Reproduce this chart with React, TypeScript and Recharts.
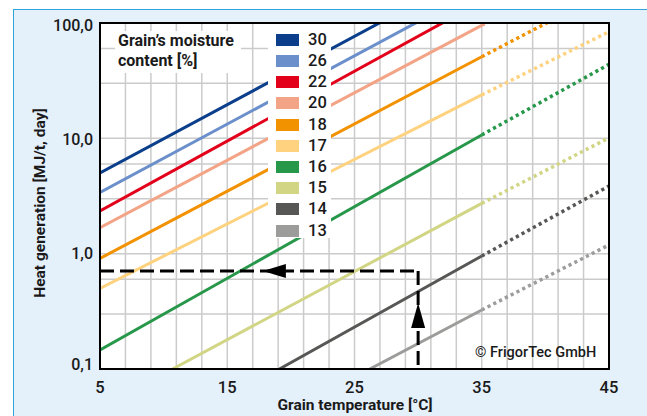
import React from 'react';
import { LineChart, Line, XAxis, YAxis, CartesianGrid, ReferenceLine, ReferenceDot } from 'recharts';

const moisture = ['30', '26', '22', '20', '18', '17', '16', '15', '14', '13'];
const lineColors = ['#0b3f8c', '#6b8fcb', '#e2001a', '#f3a487', '#f39200', '#fed27e', '#27974a', '#d1d584', '#575756', '#9c9c9b'];
// where each solid line starts (lower ones start where they cross 0,1)
const startTemp = [5, 5, 5, 5, 5, 5, 5, 10.7, 19.1, 26.2];
const startHeat = [5.0, 3.4, 2.35, 1.68, 0.91, 0.5, 0.146, 0.1, 0.1, 0.1];
// value at 35 °C, where solid turns dotted
const heatAt35 = [300, 203, 154, 95.5, 51, 23.8, 10.7, 2.73, 0.955, 0.325];
// dotted extension up to 45 °C
const heatAt45 = [null, null, null, 360, 191, 84, 43.8, 10.1, 3.86, 1.19];

const xTicks = [5, 15, 25, 35, 45];
const xGrid = [5, 7, 9, 11, 13, 15, 17, 19, 21, 23, 25, 27, 29, 31, 33, 35, 37, 39, 41, 43, 45];
const yTicks = [0.1, 1, 10, 100];
const yLabels = ['0,1', '1,0', '10,0', '100,0'];
const yGrid = [
  0.1, 0.2, 0.3, 0.4, 0.5, 0.6, 0.7, 0.8, 0.9,
  1, 2, 3, 4, 5, 6, 7, 8, 9,
  10, 20, 30, 40, 50, 60, 70, 80, 90, 100,
];

// reading example: 30 °C -> ~0,7 MJ/t,day
const readTemp = 30;
const readHeat = 0.707;

const font = 'Roboto, "DejaVu Sans", sans-serif';

const YTick = (props: any) => {
  const { x, y, payload } = props;
  const i = yTicks.indexOf(payload.value);
  const shift = payload.value === 0.1 ? -5 : payload.value === 100 ? 2 : payload.value === 10 ? 1 : 0;
  return (
    <text x={x} y={y + shift} dy="0.36em" textAnchor="end" fill="#1a1a1a" fontSize={16} fontFamily={font} fontWeight={500}>
      {yLabels[i]}
    </text>
  );
};

const LeftArrow = (props: any) => {
  const { cx, cy } = props;
  return <polygon points={`${cx},${cy} ${cx + 23},${cy - 7} ${cx + 23},${cy + 7}`} fill="#000" />;
};

const UpArrow = (props: any) => {
  const { cx, cy } = props;
  return <polygon points={`${cx},${cy} ${cx - 7},${cy + 25} ${cx + 7},${cy + 25}`} fill="#000" />;
};

export default function App() {
  return (
    <div style={{ position: 'fixed', left: 0, top: 0, width: 647, height: 416, background: '#fff', overflow: 'hidden', fontFamily: font }}>
      {/* light blue panel */}
      <div style={{ position: 'absolute', left: 13, top: 9, width: 640, height: 420, background: '#e4f0fa', borderTop: '1px solid #2ea3dc', borderLeft: '1px solid #2ea3dc' }} />

      <div style={{ position: 'absolute', left: 0, top: 0 }}>
        <LineChart width={647} height={416} margin={{ top: 23, right: 38, bottom: 17, left: 40 }}>
          <CartesianGrid
            fill="#fff"
            stroke="#cbcbcb"
            strokeWidth={1.5}
            horizontalValues={yGrid}
            verticalValues={xGrid}
          />
          <XAxis
            type="number"
            dataKey="t"
            domain={[5, 45]}
            ticks={xTicks}
            allowDataOverflow
            height={30}
            axisLine={false}
            tickLine={false}
            tickSize={0}
            tickMargin={12}
            tick={{ fill: '#1a1a1a', fontSize: 16.5, fontFamily: font, fontWeight: 500 }}
          />
          <YAxis
            type="number"
            dataKey="h"
            scale="log"
            domain={[0.1, 100]}
            ticks={yTicks}
            allowDataOverflow
            width={60}
            axisLine={false}
            tickLine={false}
            tickSize={0}
            tickMargin={7}
            tick={<YTick />}
          />
          {moisture.map((m, i) => (
            <Line
              key={'s' + m}
              data={[
                { t: startTemp[i], h: startHeat[i] },
                { t: 35, h: heatAt35[i] },
              ]}
              dataKey="h"
              stroke={lineColors[i]}
              strokeWidth={3}
              dot={false}
              isAnimationActive={false}
            />
          ))}
          {moisture.map((m, i) =>
            heatAt45[i] == null ? null : (
              <Line
                key={'d' + m}
                data={[
                  { t: 35, h: heatAt35[i] },
                  { t: 45, h: heatAt45[i] },
                ]}
                dataKey="h"
                stroke={lineColors[i]}
                strokeWidth={3.5}
                strokeDasharray="3.2 3.3"
                dot={false}
                isAnimationActive={false}
              />
            )
          )}
          <ReferenceLine
            segment={[{ x: 5, y: readHeat }, { x: readTemp, y: readHeat }]}
            stroke="#000"
            strokeWidth={3}
            strokeDasharray="14 6"
          />
          <ReferenceLine
            segment={[{ x: readTemp, y: readHeat }, { x: readTemp, y: 0.1 }]}
            stroke="#000"
            strokeWidth={3}
            strokeDasharray="14 6"
          />
          <ReferenceDot x={17.8} y={readHeat} r={1} shape={<LeftArrow />} />
          <ReferenceDot x={readTemp} y={0.373} r={1} shape={<UpArrow />} />
        </LineChart>
      </div>

      {/* legend title */}
      <div style={{ position: 'absolute', left: 115, top: 31, width: 126, height: 42, background: '#fff' }} />
      <div style={{ position: 'absolute', left: 118, top: 31, fontSize: 16, fontWeight: 700, color: '#1a1a1a', lineHeight: '20px' }}>
        Grain’s moisture<br />content [%]
      </div>

      {/* legend */}
      <div style={{ position: 'absolute', left: 268, top: 24, width: 63, height: 214, background: '#fff' }}>
        {moisture.map((m, i) => (
          <div key={m} style={{ position: 'absolute', left: 0, top: 9.8 + i * 21.2, height: 12, width: 63 }}>
            <div style={{ position: 'absolute', left: 8, top: 0, width: 23, height: 12, background: lineColors[i] }} />
            <div style={{ position: 'absolute', left: 40, top: -3, fontSize: 16.5, fontWeight: 500, lineHeight: '18px', color: '#1a1a1a' }}>{m}</div>
          </div>
        ))}
      </div>

      {/* plot frame */}
      <div style={{ position: 'absolute', left: 98.75, top: 21.75, width: 511.5, height: 348.5, border: '2.5px solid #000', boxSizing: 'border-box' }} />

      <div style={{ position: 'absolute', left: 475, top: 344, fontSize: 14.5, fontWeight: 500, color: '#1a1a1a' }}>© FrigorTec GmbH</div>

      <div style={{ position: 'absolute', left: 0, top: 396, width: 710, textAlign: 'center', fontSize: 15.5, fontWeight: 700, color: '#1a1a1a' }}>
        Grain temperature [°C]
      </div>
      <div
        style={{
          position: 'absolute',
          left: 40,
          top: 203,
          transform: 'translate(-50%, -50%) rotate(-90deg)',
          whiteSpace: 'nowrap',
          fontSize: 15.5,
          fontWeight: 700,
          color: '#1a1a1a',
        }}
      >
        Heat generation [MJ/t, day]
      </div>
    </div>
  );
}
